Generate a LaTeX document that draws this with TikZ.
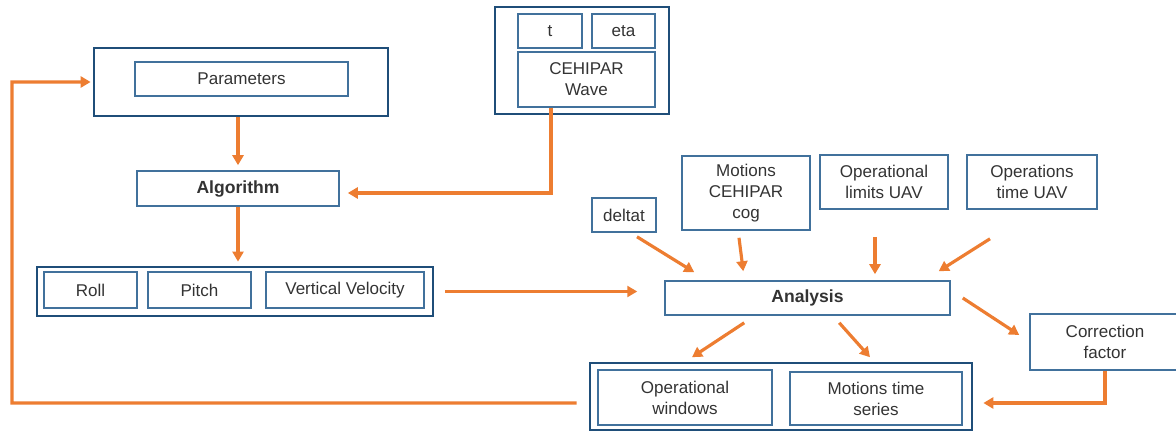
\documentclass[tikz,border=0pt]{standalone}
\usepackage{fontspec}
\setmainfont{Liberation Sans}
\usetikzlibrary{arrows.meta,positioning,calc}
\definecolor{frameblue}{HTML}{1F4E79}
\definecolor{boxblue}{HTML}{41719C}
\definecolor{floworange}{HTML}{ED7D31}

\begin{document}
\begin{tikzpicture}[x=0.02cm, y=-0.02cm, font=\fontsize{9.7}{12}\selectfont,
  group/.style={draw=frameblue, line width=1.6pt, inner sep=0pt},
  item/.style={draw=boxblue, line width=0.9pt, inner sep=0pt, align=center, text=black!80},
  flow/.style={draw=floworange, line width=1.8pt, -{Triangle[length=0.2cm, width=0.22cm]}}]
\useasboundingbox (0,0) rectangle (1176,435);

% outer frames
\node[group, minimum width=5.88cm, minimum height=1.36cm] (paramgrp) at (241,82) {};
\node[group, minimum width=3.48cm, minimum height=2.14cm] (wavegrp) at (582,60.5) {};
\node[group, minimum width=7.92cm, minimum height=0.98cm] (motiongrp) at (235,291.5) {};
\node[group, minimum width=7.64cm, minimum height=1.34cm] (resultgrp) at (781,396.5) {};

% boxes
\node[item, minimum width=4.26cm, minimum height=0.68cm] (params) at (241.5,79) {Parameters};
\node[item, minimum width=1.28cm, minimum height=0.68cm] (tbox) at (550,31) {t};
\node[item, minimum width=1.26cm, minimum height=0.68cm] (eta) at (623.5,31) {eta};
\node[item, minimum width=2.74cm, minimum height=1.10cm] (wave) at (586.5,79.5) {CEHIPAR\\Wave};
\node[item, minimum width=4.04cm, minimum height=0.70cm, font=\bfseries] (algorithm) at (238,188.5) {Algorithm};
\node[item, minimum width=1.86cm, minimum height=0.72cm] (roll) at (90.5,290) {Roll};
\node[item, minimum width=2.06cm, minimum height=0.72cm] (pitch) at (199.5,290) {Pitch};
\node[item, minimum width=3.16cm, minimum height=0.72cm] (vv) at (345,290) {Vertical Velocity};
\node[item, minimum width=1.28cm, minimum height=0.68cm] (deltat) at (624,215) {deltat};
\node[item, minimum width=2.56cm, minimum height=1.48cm] (motcog) at (746,193) {Motions\\CEHIPAR\\cog};
\node[item, minimum width=2.56cm, minimum height=1.08cm] (oplim) at (884,182) {Operational\\limits UAV};
\node[item, minimum width=2.60cm, minimum height=1.08cm] (optime) at (1032,182) {Operations\\time UAV};
\node[item, minimum width=5.70cm, minimum height=0.68cm, font=\bfseries] (analysis) at (807.5,298) {Analysis};
\node[item, minimum width=3.00cm, minimum height=1.12cm] (corr) at (1105,342) {Correction\\factor};
\node[item, minimum width=3.48cm, minimum height=1.10cm] (opwin) at (685,397.5) {Operational\\windows};
\node[item, minimum width=3.44cm, minimum height=1.06cm] (mts) at (876,398.5) {Motions time\\series};

% connectors
\draw[flow, shorten >=0.1cm] (algorithm.north |- paramgrp.south) -- (algorithm.north);
\draw[flow, shorten >=0.08cm] (algorithm.south) -- (algorithm.south |- motiongrp.north);
\draw[flow, shorten >=0.16cm] ([xshift=-0.71cm]wave.south) |- ([yshift=-0.09cm]algorithm.east);
\draw[flow, shorten <=0.22cm, shorten >=0.54cm] (motiongrp.east) -- (motiongrp.east -| analysis.west);
\draw[flow] ([shift={(13,4)}]deltat.south) -- ([shift={(30,-8)}]analysis.north west);
\draw[flow] ([shift={(-7,7)}]motcog.south) -- ([shift={(79,-9)}]analysis.north west);
\draw[flow] ([shift={(-9,27)}]oplim.south) -- ($(oplim.south |- analysis.north)+(-9,-6)$);
\draw[flow] ([shift={(-42,29)}]optime.south) -- ([shift={(-12,-9)}]analysis.north east);
\draw[flow] ([shift={(80,7)}]analysis.south west) -- ([shift={(7,-12)}]opwin.north);
\draw[flow] ([shift={(175,7)}]analysis.south west) -- ([shift={(-6,-14)}]mts.north);
\draw[flow] ([shift={(12,0)}]analysis.east) -- ([shift={(-10,-7)}]corr.west);
\draw[flow, shorten >=0.2cm] (corr.south) |- ($(resultgrp.east)+(0,6.5)$);

% feedback loop
\coordinate (fbleft) at (12,403);
\draw[flow, shorten <=0.24cm, shorten >=0.04cm] ($(resultgrp.west)+(0,6.5)$) -- (fbleft) |- (paramgrp.west);
\end{tikzpicture}
\end{document}
